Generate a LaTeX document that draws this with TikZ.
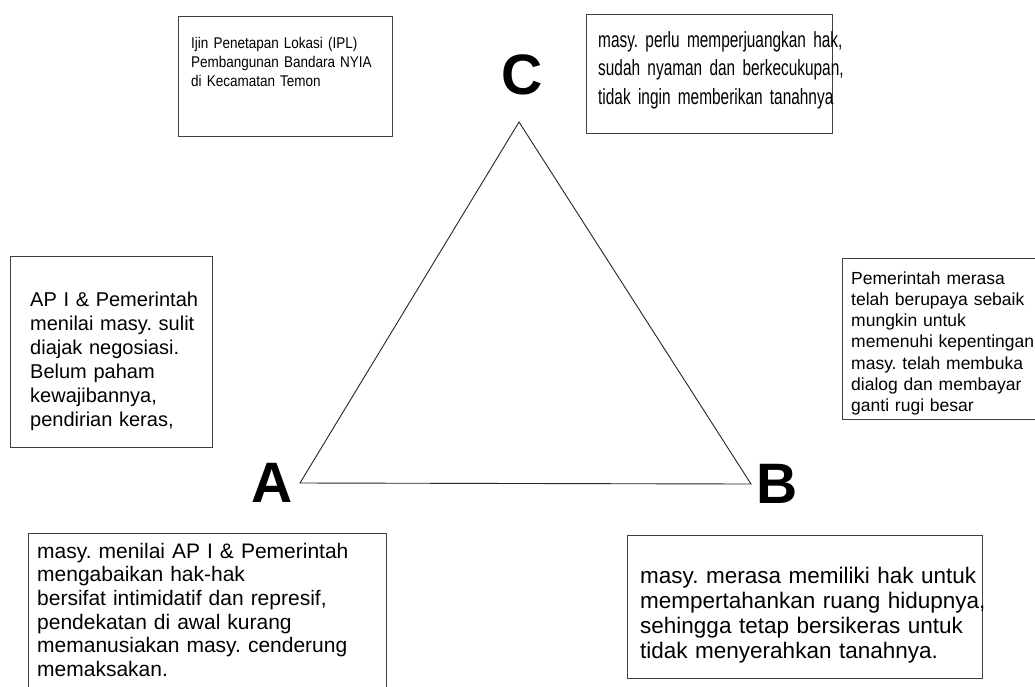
\documentclass[tikz,border=0pt]{standalone}
\usepackage{fontspec}
\setmainfont{Liberation Sans}
\newfontfamily\narrowfont[FakeStretch=0.7]{Liberation Sans}
\newfontfamily\semifont[FakeStretch=0.87]{Liberation Sans}
\usetikzlibrary{positioning}
\frenchspacing

\begin{document}
\begin{tikzpicture}[x=1pt,y=-1pt,
    frame/.style={draw=black!75, line width=1.1pt, anchor=north west, inner sep=0pt},
    txt/.style={anchor=base west, inner sep=0pt, text width=#1, align=left},
    corner/.style={font=\fontsize{57}{57}\selectfont\bfseries, inner sep=0pt}]

  \useasboundingbox[fill=white] (0,0) rectangle (1035,686);

  \coordinate (a) at (300,483);
  \coordinate (b) at (751,484);
  \coordinate (c) at (519,122);
  \draw[line width=0.9pt, black!85] (a) -- (b) -- (c) -- cycle;

  \node[corner] (la) [left=7pt of a] {A};
  \node[corner] (lb) [right=5pt of b] {B};
  \node[corner] (lc) [above=27pt of c, xshift=3pt] {C};

  \node[frame, minimum width=214pt, minimum height=120pt] (f1) at (178,16) {};
  \node[txt=220pt, font=\semifont\fontsize{15.5}{19}\selectfont] (t1) at (191,48)
    {Ijin Penetapan Lokasi (IPL)\\ Pembangunan Bandara NYIA\\ di Kecamatan Temon};

  \node[frame, minimum width=246pt, minimum height=119pt] (f2) at (586,14) {};
  \node[txt=260pt, font=\narrowfont\fontsize{22}{28.5}\selectfont] (t2) at (598,47)
    {masy. perlu memperjuangkan hak,\\ sudah nyaman dan berkecukupan,\\ tidak ingin memberikan tanahnya};

  \node[frame, minimum width=202pt, minimum height=191pt] (f3) at (10,256) {};
  \node[txt=200pt, font=\fontsize{20}{24}\selectfont] (t3) at (30,306)
    {AP I \& Pemerintah\\ menilai masy. sulit\\ diajak negosiasi.\\ Belum paham\\ kewajibannya,\\ pendirian keras,};

  \node[frame, minimum width=200pt, minimum height=161pt] (f4) at (842,258) {};
  \node[txt=220pt, font=\fontsize{17.5}{21.3}\selectfont] (t4) at (851,284)
    {Pemerintah merasa\\ telah berupaya sebaik\\ mungkin untuk\\ memenuhi kepentingan\\ masy. telah membuka\\ dialog dan membayar\\ ganti rugi besar};

  \node[frame, minimum width=358pt, minimum height=170pt] (f5) at (28,533) {};
  \node[txt=370pt, font=\fontsize{21}{23.7}\selectfont] (t5) at (37,558)
    {masy. menilai AP I \& Pemerintah\\ mengabaikan hak-hak\\ bersifat intimidatif dan represif,\\ pendekatan di awal kurang\\ memanusiakan masy. cenderung\\ memaksakan.};

  \node[frame, minimum width=355pt, minimum height=143pt] (f6) at (627,535) {};
  \node[txt=400pt, font=\fontsize{22.5}{25.3}\selectfont] (t6) at (640,583)
    {masy. merasa memiliki hak untuk\\ mempertahankan ruang hidupnya,\\ sehingga tetap bersikeras untuk\\ tidak menyerahkan tanahnya.};
\end{tikzpicture}
\end{document}
